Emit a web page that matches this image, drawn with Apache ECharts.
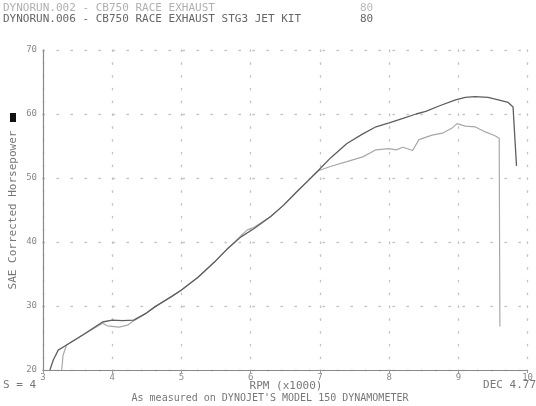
<!DOCTYPE html>
<html><head><meta charset="utf-8">
<script src="https://cdn.jsdelivr.net/npm/echarts@6/dist/echarts.min.js"></script>
<style>html,body{margin:0;padding:0;background:#fff}#c{width:536px;height:406px}</style>
</head><body><div id="c"></div>
<script>
// ---- data ----
const runNames = ['DYNORUN.002 - CB750 RACE EXHAUST', 'DYNORUN.006 - CB750 RACE EXHAUST STG3 JET KIT'];
const runTags = ['80', '80'];
const xTicks = [3, 4, 5, 6, 7, 8, 9, 10];
const yTicks = [20, 30, 40, 50, 60, 70];
const rpmRun006 = [3.10, 3.15, 3.22, 3.34, 3.58, 3.86, 4.00, 4.15, 4.31, 4.48, 4.62, 4.86, 5.00, 5.24, 5.48, 5.67, 5.86, 6.05, 6.29, 6.48, 6.67, 6.86, 6.97, 7.15, 7.39, 7.62, 7.81, 8.00, 8.20, 8.39, 8.53, 8.72, 8.96, 9.10, 9.24, 9.43, 9.62, 9.72, 9.79, 9.84];
const hpRun006  = [20.0, 21.6, 23.1, 23.9, 25.5, 27.5, 27.8, 27.7, 27.8, 28.8, 29.9, 31.5, 32.5, 34.5, 36.9, 39.0, 40.8, 42.1, 44.0, 45.8, 47.9, 49.9, 51.1, 53.1, 55.4, 56.9, 58.0, 58.6, 59.3, 60.0, 60.4, 61.25, 62.2, 62.6, 62.7, 62.6, 62.1, 61.8, 61.1, 51.9];
const rpmRun002 = [3.27, 3.29, 3.34, 3.58, 3.86, 3.93, 4.10, 4.22, 4.31, 4.48, 4.62, 4.86, 5.00, 5.24, 5.48, 5.67, 5.86, 5.95, 6.05, 6.29, 6.48, 6.67, 6.86, 6.97, 7.15, 7.39, 7.62, 7.81, 8.00, 8.10, 8.20, 8.34, 8.43, 8.62, 8.77, 8.91, 8.98, 9.10, 9.24, 9.39, 9.53, 9.59, 9.60];
const hpRun002  = [20.0, 22.3, 23.9, 25.5, 27.3, 26.9, 26.7, 27.0, 27.7, 28.8, 29.9, 31.5, 32.5, 34.5, 36.9, 39.0, 41.0, 41.9, 42.3, 44.0, 45.8, 47.9, 49.9, 51.1, 51.8, 52.55, 53.3, 54.4, 54.6, 54.4, 54.8, 54.3, 56.0, 56.7, 57.0, 57.8, 58.5, 58.1, 58.0, 57.2, 56.6, 56.2, 26.8];
// ----------------

const zip = (a, b) => a.map((v, i) => [v, b[i]]);
const mono = 'DejaVu Sans Mono';
const chart = echarts.init(document.getElementById('c'), null, {renderer: 'canvas'});
chart.setOption({
  animation: false,
  backgroundColor: '#fff',
  grid: {left: 43, right: 3, top: 50, bottom: 36, containLabel: false},
  xAxis: {
    type: 'value', min: 3, max: 10, interval: 1,
    axisLine: {lineStyle: {color: '#8a8a8a', width: 1.2}},
    axisTick: {show: true, length: 3, inside: false, lineStyle: {color: '#999'}},
    axisLabel: {color: '#888', fontFamily: mono, fontSize: 9, margin: 3,
      formatter: v => xTicks.includes(v) ? String(v) : ''},
    splitLine: {show: true, lineStyle: {color: '#c4c4c4', width: 1.4, type: [1.4, 11.4], cap: 'round'}}
  },
  yAxis: {
    type: 'value', min: 20, max: 70, interval: 10,
    axisLine: {show: true, lineStyle: {color: '#8a8a8a', width: 1.2}},
    axisTick: {show: false},
    axisLabel: {color: '#888', fontFamily: mono, fontSize: 9, margin: 6,
      formatter: v => yTicks.includes(v) ? String(v) : ''},
    splitLine: {show: true, lineStyle: {color: '#c4c4c4', width: 1.4, type: [1.4, 12.6], cap: 'round'}}
  },
  series: [
    {name: runNames[0], type: 'line', data: zip(rpmRun002, hpRun002), showSymbol: false, smooth: false,
     lineStyle: {color: '#a8a8a8', width: 1.2}, z: 2},
    {name: runNames[1], type: 'line', data: zip(rpmRun006, hpRun006), showSymbol: false, smooth: false,
     lineStyle: {color: '#5e5e5e', width: 1.3}, z: 3}
  ],
  graphic: [
    {type: 'text', left: 3, top: 3, style: {text: runNames[0], fill: '#b0b0b0', font: '11px ' + mono}},
    {type: 'text', left: 360, top: 3, style: {text: runTags[0], fill: '#b8b8b8', font: '11px ' + mono}},
    {type: 'text', left: 3, top: 14, style: {text: runNames[1], fill: '#666', font: '11px ' + mono}},
    {type: 'text', left: 360, top: 14, style: {text: runTags[1], fill: '#666', font: '11px ' + mono}},
    {type: 'text', x: 13, y: 210, rotation: Math.PI / 2,
     style: {text: 'SAE Corrected Horsepower', fill: '#777', font: '11px ' + mono, align: 'center', verticalAlign: 'middle'}},
    {type: 'rect', shape: {x: 10, y: 113, width: 6, height: 9}, style: {fill: '#111'}},
    {type: 'text', left: 3, top: 380, style: {text: 'S = 4', fill: '#777', font: '11px ' + mono}},
    {type: 'text', x: 286, y: 386, style: {text: 'RPM (x1000)', fill: '#777', font: '11px ' + mono, align: 'center', verticalAlign: 'middle'}},
    {type: 'text', right: 0, top: 380, style: {text: 'DEC 4.77', fill: '#777', font: '11px ' + mono}},
    {type: 'text', x: 270, y: 398, style: {text: "As measured on DYNOJET'S MODEL 150 DYNAMOMETER", fill: '#777', font: '10px ' + mono, align: 'center', verticalAlign: 'middle'}}
  ]
});
</script></body></html>
